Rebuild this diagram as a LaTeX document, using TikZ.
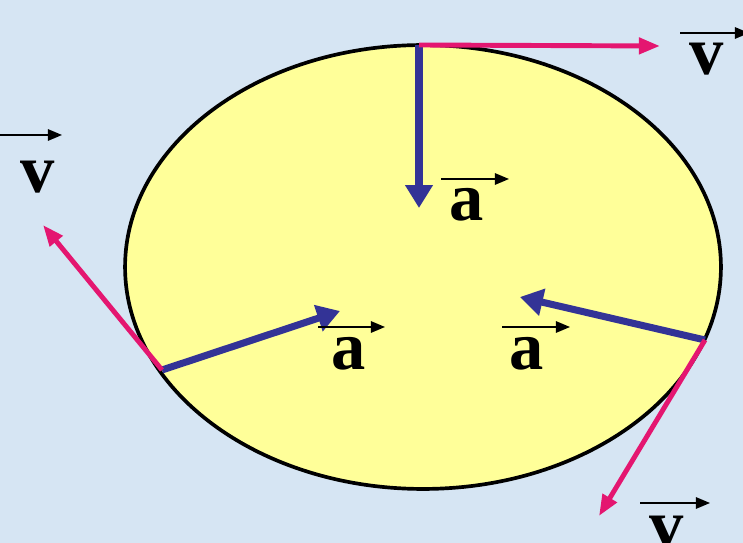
\documentclass[tikz,border=0pt]{standalone}
\usepackage{fontspec}
\setmainfont{Liberation Serif}
\usetikzlibrary{arrows.meta}
\definecolor{SkyBack}{RGB}{214,229,243}
\definecolor{DiscYellow}{RGB}{255,255,153}
\definecolor{VelPink}{RGB}{228,22,112}
\definecolor{AccBlue}{RGB}{51,51,150}

\begin{document}
\begin{tikzpicture}[x=0.02cm, y=-0.02cm, every node/.style={font=\fontsize{39}{39}\selectfont\bfseries, inner sep=0pt}, vel/.style={-{Triangle[length=12pt,width=9pt]}, line width=2.8pt, VelPink}, acc/.style={-{Triangle[length=13pt,width=15pt]}, line width=4pt, AccBlue}, hat/.style={-{Triangle[length=8pt,width=6.5pt]}, line width=0.9pt}]
\fill[SkyBack] (0,0) rectangle (743,543);
\useasboundingbox (0,0) rectangle (743,543);
\draw[line width=2.1pt, fill=DiscYellow] (423,267) ellipse [x radius=5.96cm, y radius=4.44cm];
\coordinate (top) at (419,45);
\coordinate (lft) at (162,370);
\coordinate (rgt) at (705,340);
\coordinate (topV) at (660,46);
\coordinate (topA) at (419,208);
\coordinate (lftV) at (43,225);
\coordinate (lftA) at (340,311);
\coordinate (rgtV) at (599,516);
\coordinate (rgtA) at (520,297);
\draw[acc] (top) -- (topA);
\draw[acc] (lft) -- (lftA);
\draw[acc] (rgt) -- (rgtA);
\draw[vel] (top) -- (topV);
\draw[vel] (lft) -- (lftV);
\draw[vel] (rgt) -- (rgtV);
\node (vTop) at (707,59) {v};
\node (aTop) at (467,205) {a};
\node (vLft) at (38,177) {v};
\node (aLft) at (349,354) {a};
\node (aRgt) at (527,354) {a};
\node (vBot) at (667,532) {v};
\draw[hat] ([shift={(-27,-26)}]vTop.center) -- ([shift={(42,-26)}]vTop.center);
\draw[hat] ([shift={(-26,-26)}]aTop.center) -- ([shift={(42,-26)}]aTop.center);
\draw[hat] ([shift={(-38,-42)}]vLft.center) -- ([shift={(24,-42)}]vLft.center);
\draw[hat] ([shift={(-31,-27)}]aLft.center) -- ([shift={(36,-27)}]aLft.center);
\draw[hat] ([shift={(-25,-27)}]aRgt.center) -- ([shift={(43,-27)}]aRgt.center);
\draw[hat] ([shift={(-27,-29)}]vBot.center) -- ([shift={(43,-29)}]vBot.center);
\end{tikzpicture}
\end{document}
